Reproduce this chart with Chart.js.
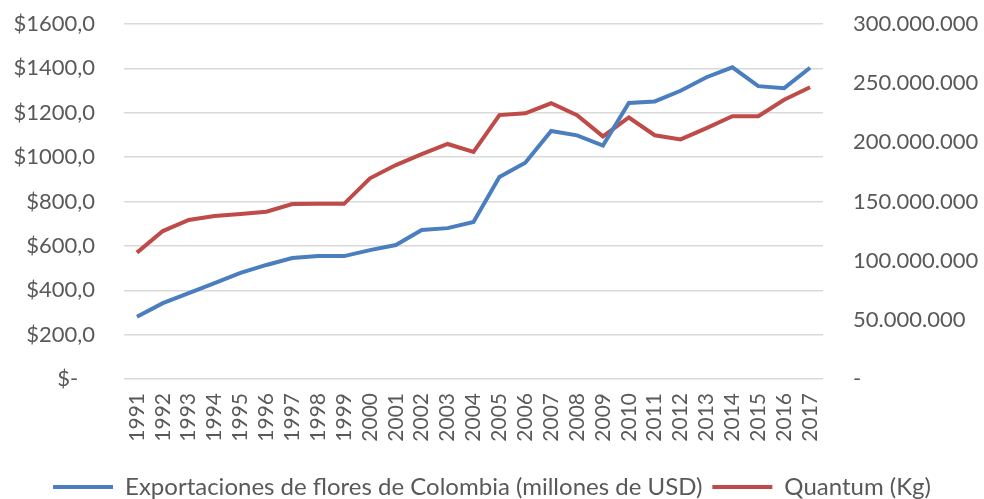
<!DOCTYPE html>
<html>
<head>
<meta charset="utf-8">
<script src="https://cdn.jsdelivr.net/npm/chart.js@4"></script>
<style>
	html, body { margin: 0; padding: 0; background: #fff; }
	.chart-container { position: relative; width: 984px; height: 499px; }
</style>
</head>
<body>
<div class="chart-container"><canvas id="floresChart"></canvas></div>
<script>
const YEARS = ['1991','1992','1993','1994','1995','1996','1997','1998','1999','2000','2001','2002','2003','2004','2005','2006','2007','2008','2009','2010','2011','2012','2013','2014','2015','2016','2017'];
// millones de USD (eje izquierdo)
const EXPORT_USD = [281, 342, 387, 432, 478, 514, 545, 554, 554, 581, 604, 672, 680, 708, 910, 975, 1118, 1098, 1052, 1244, 1251, 1299, 1360, 1405, 1320, 1311, 1403];
// kg (eje derecho)
const QUANTUM_KG = [106800000, 125000000, 134400000, 137700000, 139400000, 141400000, 147900000, 148000000, 148000000, 169600000, 180800000, 190000000, 198600000, 192000000, 223000000, 224500000, 233000000, 223000000, 205000000, 221000000, 206000000, 202500000, 212000000, 222000000, 222000000, 236000000, 246500000];

const FONT = 'Lato';
const GREY = '#595959';

function fmtUsd(v) { return v === 0 ? '$-   ' : '$' + v + ',0'; }
function fmtKg(v) { return v === 0 ? '-' : String(v).replace(/\B(?=(\d{3})+(?!\d))/g, '.'); }

// fixed axis width, and no extra top/bottom padding from the big tick padding
function fitY(width) {
	return s => { s.width = width; s.paddingTop = 0; s.paddingBottom = 0; };
}

const ctx = document.getElementById('floresChart');
new Chart(ctx, {
	type: 'line',
	data: {
		labels: YEARS,
		datasets: [
			{ label: 'Exportaciones de flores de Colombia (millones de USD)', data: EXPORT_USD, yAxisID: 'y', borderColor: '#4a7ebe', backgroundColor: '#4a7ebe', borderWidth: 4, pointRadius: 0, tension: 0 },
			{ label: 'Quantum (Kg)', data: QUANTUM_KG, yAxisID: 'y2', borderColor: '#be4b48', backgroundColor: '#be4b48', borderWidth: 4, pointRadius: 0, tension: 0 }
		]
	},
	options: {
		responsive: true,
		maintainAspectRatio: false,
		animation: false,
		layout: { padding: { top: 24, left: 0, right: 0, bottom: -10 } },
		plugins: {
			tooltip: { enabled: false },
			legend: {
				position: 'bottom',
				labels: { usePointStyle: true, pointStyle: 'line', pointStyleWidth: 60, color: GREY, font: { family: FONT, size: 24 }, padding: 10 }
			}
		},
		scales: {
			x: {
				offset: true,
				grid: { display: false, drawTicks: false },
				border: { display: false },
				ticks: { color: GREY, font: { family: FONT, size: 21 }, minRotation: 90, maxRotation: 90, padding: 14, autoSkip: false },
				afterFit: s => { s.height = 86; }
			},
			y: {
				position: 'left',
				min: 0, max: 1600,
				grid: { color: '#d9d9d9', lineWidth: 1.5, drawTicks: false },
				border: { display: false },
				ticks: { stepSize: 200, color: GREY, font: { family: FONT, size: 22 }, padding: 29, callback: fmtUsd },
				afterFit: fitY(124)
			},
			y2: {
				position: 'right',
				min: 0, max: 300000000,
				grid: { display: false, drawTicks: false },
				border: { display: false },
				ticks: { stepSize: 50000000, color: GREY, font: { family: FONT, size: 22 }, padding: 30, callback: fmtKg },
				afterFit: fitY(161)
			}
		}
	}
});
</script>
</body>
</html>
